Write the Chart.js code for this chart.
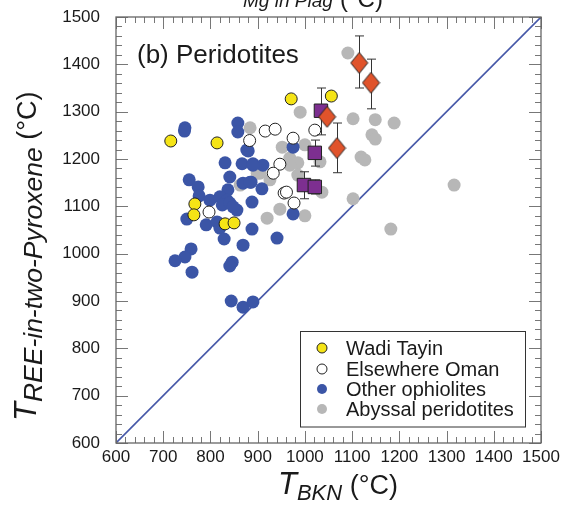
<!DOCTYPE html>
<html>
<head>
<meta charset="utf-8">
<script src="https://cdn.jsdelivr.net/npm/chart.js"></script>
<style>
  body { margin: 0; background: #fff; }
  canvas { display: block; }
</style>
</head>
<body>
<canvas id="chart" width="568" height="505"></canvas>
<script>
// values, [T_BKN, T_REE]
const wadiTayin = [[716,1238],[814,1234],[971,1327],[1056,1333],[767,1105],[765,1082],[831,1063],[850,1065]];
const elsewhereOman = [[797,1088],[883,1239],[916,1259],[937,1263],[975,1244],[1021,1261],[947,1189],
    [933,1170],[956,1128],[961,1130],[977,1107]];
const otherOphiolites = [[746,1266],[745,1259],[858,1276],[858,1257],[880,1217],[831,1192],[867,1190],
    [890,1190],[886,1151],[755,1156],[774,1141],[776,1122],[841,1162],[837,1135],[799,1113],[820,1120],
    [835,1113],[825,1103],[841,1107],[856,1092],[848,1099],[888,1109],[750,1073],[791,1061],[814,1067],
    [820,1054],[829,1031],[888,1052],[869,1018],[759,1010],[746,993],[725,985],[761,961],[846,982],
    [841,974],[844,900],[869,887],[890,898],[975,1225],[877,1219],[911,1187],[890,1187],[941,1033],
    [909,1137],[869,1149],[884,1151],[975,1084]];
const abyssal = [[884,1266],[899,1170],[863,1145],[1091,1424],[990,1299],[1102,1285],[1149,1283],
    [1189,1276],[1142,1251],[1149,1242],[1119,1204],[1127,1198],[952,1225],[1000,1230],[1032,1194],
    [968,1202],[985,1192],[968,1187],[905,1170],[926,1156],[985,1166],[947,1094],[1000,1080],
    [1036,1130],[1102,1116],[1182,1052],[920,1075],[1316,1145]];
const squarePts = [[1034,1302],[1021,1213],[998,1145],[1021,1141]];
const squareErr = [[1251,1350],[1185,1240],[1116,1173],[1126,1156]];
const diamondPts = [[1115,1403],[1140,1361],[1047,1289],[1068,1223]];
const diamondErr = [[1350,1460],[1306,1411],null,[1171,1276]];
const oneToOne = [600,1500];
const axisMin = 600, axisMax = 1500;

function toXY(list) {
    return list.map(p => ({ x: p[0], y: p[1] }));
}

// diamond marker, a little taller than wide
const diamond = document.createElement("canvas");
diamond.width = 19; diamond.height = 23;
(function () {
    const c = diamond.getContext("2d");
    c.beginPath();
    c.moveTo(9.5, 1); c.lineTo(18, 11.5); c.lineTo(9.5, 22); c.lineTo(1, 11.5); c.closePath();
    c.fillStyle = "#e0532b"; c.fill();
    c.strokeStyle = "#222"; c.lineWidth = 1; c.stroke();
})();

const errorBars = {
    id: "errorBars",
    beforeDatasetDraw(chart, args) {
        const ds = chart.data.datasets[args.index];
        if (!ds.errors) return;
        const ctx = chart.ctx, xs = chart.scales.x, ys = chart.scales.y;
        ctx.save();
        ctx.strokeStyle = "#333";
        ctx.lineWidth = 1;
        ds.data.forEach((p, i) => {
            const e = ds.errors[i];
            if (!e) return;
            const px = Math.round(xs.getPixelForValue(p.x)) + 0.5;
            const y0 = ys.getPixelForValue(e[0]), y1 = ys.getPixelForValue(e[1]);
            ctx.beginPath();
            ctx.moveTo(px, y0); ctx.lineTo(px, y1);
            ctx.moveTo(px - 4.5, y0); ctx.lineTo(px + 4.5, y0);
            ctx.moveTo(px - 4.5, y1); ctx.lineTo(px + 4.5, y1);
            ctx.stroke();
        });
        ctx.restore();
    }
};

const frame = {
    id: "frame",
    afterDraw(chart) {
        const ctx = chart.ctx, a = chart.chartArea;
        const xs = chart.scales.x, ys = chart.scales.y;
        ctx.save();
        ctx.strokeStyle = "#777";
        ctx.lineWidth = 1;
        for (let v = axisMin; v <= axisMax; v += 20) {
            const len = v % 100 === 0 ? 12 : 6;
            const px = Math.round(xs.getPixelForValue(v)) + 0.5;
            const py = Math.round(ys.getPixelForValue(v)) + 0.5;
            ctx.beginPath();
            ctx.moveTo(px, a.bottom); ctx.lineTo(px, a.bottom - len);
            ctx.moveTo(px, a.top); ctx.lineTo(px, a.top + len);
            ctx.moveTo(a.left, py); ctx.lineTo(a.left + len, py);
            ctx.moveTo(a.right, py); ctx.lineTo(a.right - len, py);
            ctx.stroke();
        }
        ctx.strokeStyle = "#666";
        ctx.lineWidth = 1.3;
        ctx.strokeRect(a.left, a.top, a.right - a.left, a.bottom - a.top);
        ctx.restore();
    }
};

const labels = {
    id: "labels",
    afterDraw(chart) {
        const ctx = chart.ctx;
        ctx.save();
        ctx.fillStyle = "#1a1a1a";
        ctx.textBaseline = "alphabetic";

        // panel label
        ctx.font = "26px 'Liberation Sans', Arial, sans-serif";
        ctx.fillText("(b) Peridotites", 137, 63);

        // cropped axis title of the panel above
        ctx.font = "italic 19px 'Liberation Sans', Arial, sans-serif";
        ctx.fillText("Mg in Plag", 243, 7);
        ctx.font = "24px 'Liberation Sans', Arial, sans-serif";
        ctx.fillText("(°C)", 340, 7);

        // x axis title
        let x = 278;
        ctx.font = "italic 31px 'Liberation Sans', Arial, sans-serif";
        ctx.fillText("T", x, 494);
        x += ctx.measureText("T").width;
        ctx.font = "italic 22px 'Liberation Sans', Arial, sans-serif";
        ctx.fillText("BKN", x, 500);
        x += ctx.measureText("BKN").width;
        ctx.font = "27px 'Liberation Sans', Arial, sans-serif";
        ctx.fillText(" (°C)", x, 494);

        // y axis title
        ctx.translate(36, 421);
        ctx.rotate(-Math.PI / 2);
        x = 0;
        ctx.font = "italic 31px 'Liberation Sans', Arial, sans-serif";
        ctx.fillText("T", x, 0);
        x += ctx.measureText("T").width;
        ctx.font = "italic 26.5px 'Liberation Sans', Arial, sans-serif";
        ctx.fillText("REE-in-two-Pyroxene", x, 6);
        x += ctx.measureText("REE-in-two-Pyroxene").width;
        ctx.font = "27px 'Liberation Sans', Arial, sans-serif";
        ctx.fillText(" (°C)", x, 0);
        ctx.restore();

        // legend box
        ctx.save();
        ctx.fillStyle = "#fff";
        ctx.fillRect(300.5, 331.5, 225, 95.5);
        ctx.strokeStyle = "#333";
        ctx.lineWidth = 1;
        ctx.strokeRect(300.5, 331.5, 225, 95.5);
        const entries = [
            ["Wadi Tayin", "#f5e416", "#222"],
            ["Elsewhere Oman", "#fff", "#222"],
            ["Other ophiolites", "#3b55a6", null],
            ["Abyssal peridotites", "#b7b7b7", null]
        ];
        const rowY = [348, 369, 389, 409];
        ctx.font = "20px 'Liberation Sans', Arial, sans-serif";
        ctx.textBaseline = "middle";
        entries.forEach((e, i) => {
            ctx.beginPath();
            ctx.arc(322, rowY[i], 5, 0, Math.PI * 2);
            ctx.fillStyle = e[1];
            ctx.fill();
            if (e[2]) { ctx.strokeStyle = e[2]; ctx.lineWidth = 1; ctx.stroke(); }
            ctx.fillStyle = "#1a1a1a";
            ctx.fillText(e[0], 346, rowY[i] + 1);
        });
        ctx.restore();
    }
};

const tickFont = { family: "'Liberation Sans', Arial, sans-serif", size: 17 };

document.addEventListener("DOMContentLoaded", function () {
    new Chart(document.getElementById("chart"), {
        type: "scatter",
        data: {
            datasets: [
                {
                    label: "REE-in-two-pyroxene (diamonds)",
                    data: toXY(diamondPts),
                    errors: diamondErr,
                    pointStyle: diamond,
                    order: 0
                },
                {
                    label: "REE-in-two-pyroxene (squares)",
                    data: toXY(squarePts),
                    errors: squareErr,
                    pointStyle: "rect",
                    pointRadius: 9.5,
                    backgroundColor: "#7d2f90",
                    borderColor: "#222",
                    borderWidth: 1,
                    order: 1
                },
                {
                    label: "Wadi Tayin",
                    data: toXY(wadiTayin),
                    pointRadius: 6,
                    backgroundColor: "#f5e416",
                    borderColor: "#222",
                    borderWidth: 1,
                    order: 2
                },
                {
                    label: "Elsewhere Oman",
                    data: toXY(elsewhereOman),
                    pointRadius: 6,
                    backgroundColor: "#fff",
                    borderColor: "#222",
                    borderWidth: 1,
                    order: 3
                },
                {
                    label: "Other ophiolites",
                    data: toXY(otherOphiolites),
                    pointRadius: 6.5,
                    backgroundColor: "#3b55a6",
                    borderWidth: 0,
                    order: 4
                },
                {
                    label: "Abyssal peridotites",
                    data: toXY(abyssal),
                    pointRadius: 6.5,
                    backgroundColor: "#b7b7b7",
                    borderWidth: 0,
                    order: 5
                },
                {
                    type: "line",
                    label: "1:1",
                    data: oneToOne.map(v => ({ x: v, y: v })),
                    borderColor: "#4658a8",
                    borderWidth: 1.6,
                    pointRadius: 0,
                    order: 6
                }
            ]
        },
        options: {
            responsive: false,
            animation: false,
            layout: { padding: { top: 17, right: 27, left: 0, bottom: 0 } },
            plugins: { legend: { display: false }, tooltip: { enabled: false } },
            scales: {
                x: {
                    type: "linear",
                    min: axisMin, max: axisMax,
                    afterFit: s => { s.height = 62; s.paddingLeft = 0; s.paddingRight = 0; },
                    grid: { display: false, drawTicks: false },
                    border: { display: false },
                    ticks: {
                        stepSize: 100,
                        padding: 4,
                        maxRotation: 0,
                        minRotation: 0,
                        autoSkip: false,
                        color: "#1a1a1a",
                        font: tickFont,
                        callback: v => String(v)
                    }
                },
                y: {
                    type: "linear",
                    min: axisMin, max: axisMax,
                    afterFit: s => { s.width = 116; s.paddingTop = 0; s.paddingBottom = 0; },
                    grid: { display: false, drawTicks: false },
                    border: { display: false },
                    ticks: {
                        stepSize: 100,
                        padding: 16,
                        color: "#1a1a1a",
                        font: tickFont,
                        callback: v => String(v)
                    }
                }
            }
        },
        plugins: [errorBars, frame, labels]
    });
});
</script>
</body>
</html>
